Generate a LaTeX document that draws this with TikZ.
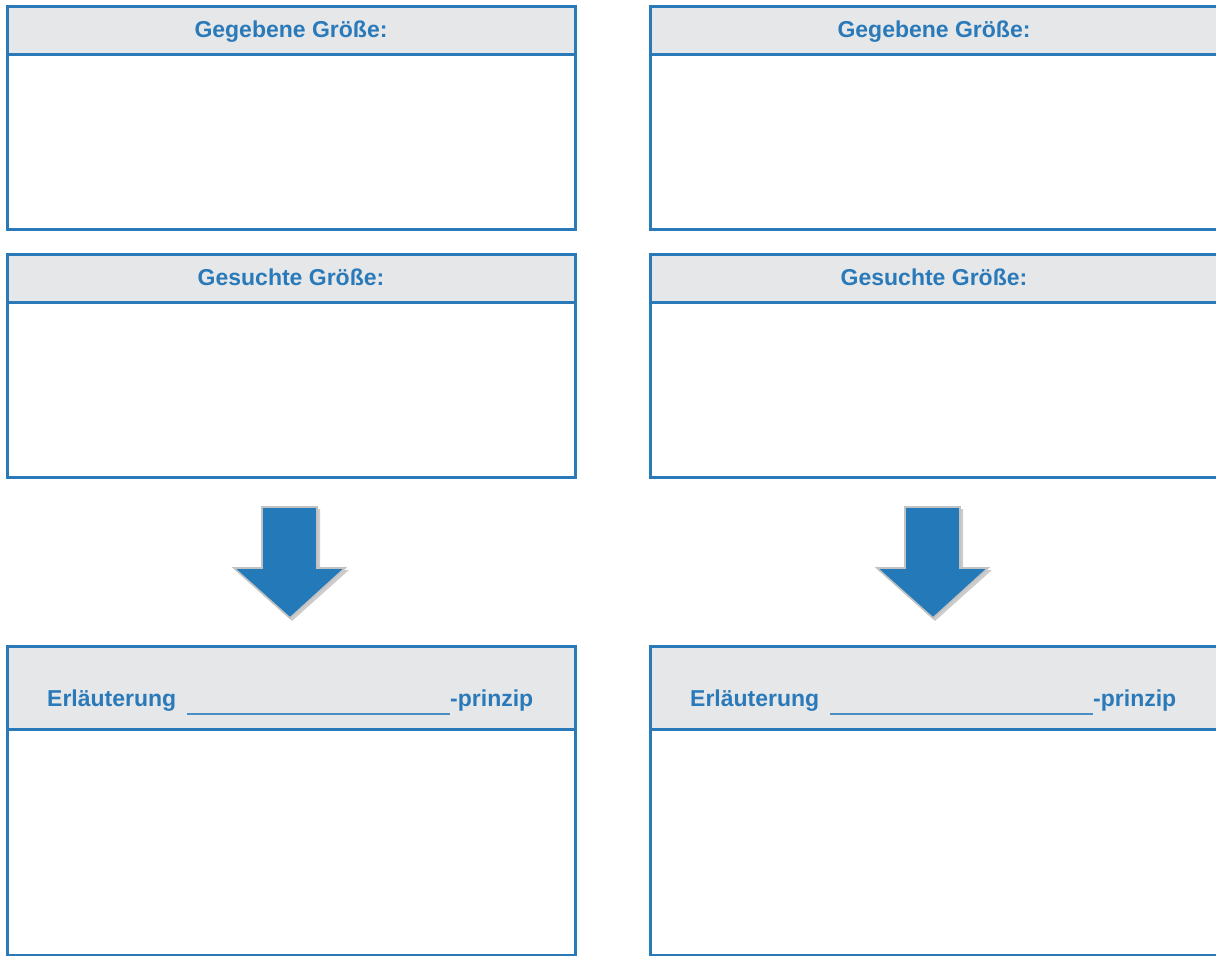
\documentclass[tikz,border=0pt]{standalone}
\usepackage{fontspec}
\setmainfont{Liberation Sans}
\definecolor{bl}{HTML}{2A7ABA}
\definecolor{hd}{HTML}{E6E7E9}
\definecolor{ar}{HTML}{2479B9}
\definecolor{arsh}{HTML}{9A9A9A}
\tikzset{
  panel/.style={draw=bl, line width=3pt, minimum width=568pt, anchor=north west, inner sep=0pt, outer sep=0pt},
  hdr/.style={panel, fill=hd, text=bl, font=\fontsize{23}{27}\selectfont\bfseries, text height=20pt, text depth=5pt},
  bdy/.style={panel, fill=white},
  lbl/.style={text=bl, font=\fontsize{23}{27}\selectfont\bfseries, inner sep=0pt, anchor=base west},
  uline/.style={draw=bl!85, line width=1.1pt},
  arrowshape/.style={fill=ar, draw=arsh!60, line width=1.6pt, line join=miter},
  arrowshadow/.style={fill=arsh, opacity=0.5}
}
\begin{document}
\begin{tikzpicture}[x=1pt,y=-1pt]
\useasboundingbox (0,0) rectangle (1216,956);
\foreach \dx/\s in {0/L,643/R}{
  \begin{scope}[xshift=\dx pt]
    % Gegebene
    \node[bdy, minimum height=175pt] (gb\s) at (7,54) {};
    \node[hdr, minimum height=48pt] (gh\s) at (7,6) {Gegebene Größe:};
    % Gesuchte
    \node[bdy, minimum height=175pt] (sb\s) at (7,302) {};
    \node[hdr, minimum height=48pt] (sh\s) at (7,254) {Gesuchte Größe:};
    % Erläuterung
    \node[bdy, minimum height=226pt] (eb\s) at (7,729) {};
    \node[hdr, minimum height=83pt] (eh\s) at (7,646) {};
    \node[lbl] (et\s) at (47,706) {Erläuterung};
    \coordinate (us\s) at (187,714);
    \coordinate (ue\s) at (450,714);
    \draw[uline] (us\s) -- (ue\s);
    \node[lbl] (ep\s) at (450,706) {-prinzip};
    % arrow
    \fill[arrowshadow] (264,509) -- (320,509) -- (320,570) -- (349,570) -- (292,621) -- (235,570) -- (264,570) -- cycle;
    \draw[arrowshape] (262,507) -- (317,507) -- (317,568) -- (345,568) -- (290,618) -- (234,568) -- (262,568) -- cycle;
  \end{scope}
}
\end{tikzpicture}
\end{document}
